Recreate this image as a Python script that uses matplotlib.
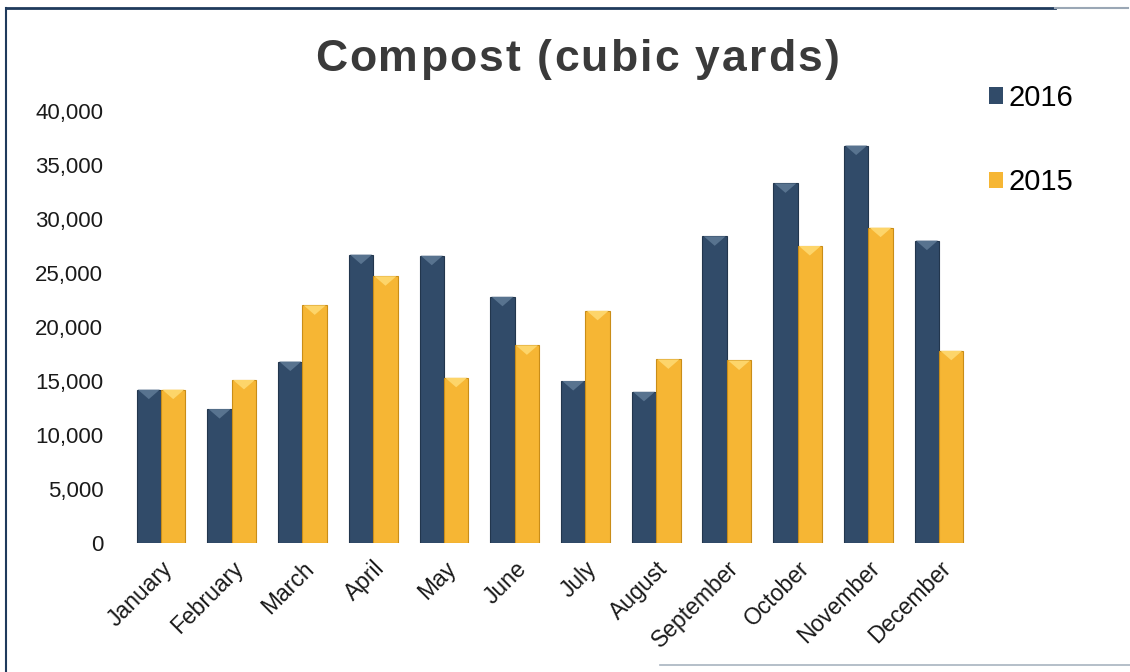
import numpy as np
import matplotlib
matplotlib.use("Agg")
import matplotlib.pyplot as plt
from matplotlib.patches import Polygon
from matplotlib.lines import Line2D

months = ['January', 'February', 'March', 'April', 'May', 'June',
          'July', 'August', 'September', 'October', 'November', 'December']
values_2016 = [14200, 12400, 16800, 26700, 26600, 22800,
               15000, 14000, 28400, 33300, 36800, 28000]
values_2015 = [14200, 15100, 22000, 24700, 15300, 18300,
               21500, 17000, 16900, 27500, 29200, 17800]

navy = '#314b69'
navy_light = '#58738f'
gold = '#f6b634'
gold_light = '#fdd56a'

plt.rcParams['font.family'] = ['Liberation Sans', 'DejaVu Sans']

fig = plt.figure(figsize=(11.3, 6.72), dpi=100)
ax = fig.add_axes([120 / 1130, 129 / 672, 858 / 1130, 432 / 672])

x = np.arange(len(months))
w = 0.345
b16 = ax.bar(x - w / 2, values_2016, width=w, color=navy, edgecolor='#22364d', linewidth=0.8, label='2016')
b15 = ax.bar(x + w / 2, values_2015, width=w, color=gold, edgecolor='#c98d18', linewidth=0.8, label='2015')

ax.set_xlim(-0.58, 11.55)
ax.set_ylim(0, 40000)

# top bevel on each bar
bevel = 0.022 * 40000
for bars, light in ((b16, navy_light), (b15, gold_light)):
    for p in bars:
        x0, h, bw = p.get_x(), p.get_height(), p.get_width()
        tri = Polygon([(x0 + bw * 0.05, h), (x0 + bw * 0.95, h), (x0 + bw / 2, h - bevel)],
                      closed=True, facecolor=light, edgecolor='none', zorder=3)
        ax.add_patch(tri)

ax.set_yticks(np.arange(0, 40001, 5000))
ax.set_yticklabels([f'{v:,}' for v in range(0, 40001, 5000)], fontsize=16, color='#1a1a1a')
ax.set_xticks(x)
ax.set_xticklabels(months, rotation=45, ha='right', rotation_mode='anchor',
                   fontsize=16.5, color='#1a1a1a')
ax.tick_params(axis='y', length=0, pad=12)
ax.tick_params(axis='x', length=0, pad=10)
for s in ax.spines.values():
    s.set_visible(False)

# title with wide letter spacing, placed char by char
title = 'Compost (cubic yards)'
tkw = dict(fontsize=32, fontweight='bold', color='#3a3a3a', va='baseline')
renderer = fig.canvas.get_renderer()


def text_w(s):
    t = fig.text(0, 0, s + 'x', **tkw)
    wd = t.get_window_extent(renderer).width
    t.remove()
    return wd


wx = text_w('')
track = 2.1
offsets = [text_w(title[:i]) - wx + i * track for i in range(len(title))]
total = text_w(title) - wx + (len(title) - 1) * track
start = 577 - total / 2
for ch, off in zip(title, offsets):
    if ch != ' ':
        fig.text((start + off) / 1130, 1 - 71 / 672, ch, ha='left', **tkw)

handles = [plt.Rectangle((0, 0), 1, 1, facecolor=navy, edgecolor='none'),
           plt.Rectangle((0, 0), 1, 1, facecolor=gold, edgecolor='none')]
fig.legend(handles, ['2016', '2015'], loc='upper left', bbox_to_anchor=(974 / 1130, 1 - 69 / 672),
           frameon=False, fontsize=21, handlelength=0.5, handleheight=0.5,
           handletextpad=0.2, labelspacing=1.95, borderpad=0)

# outer frame
fig.add_artist(Line2D([6 / 1130, 1055 / 1130], [1 - 8 / 672, 1 - 8 / 672], color='#1f3a5c', lw=2))
fig.add_artist(Line2D([1055 / 1130, 1128 / 1130], [1 - 8 / 672, 1 - 8 / 672], color='#9aa7b5', lw=1.5))
fig.add_artist(Line2D([6 / 1130, 6 / 1130], [1 - 8 / 672, 0], color='#1f3a5c', lw=1.5))
fig.add_artist(Line2D([660 / 1130, 1130 / 1130], [1 - 665 / 672, 1 - 665 / 672], color='#a8b4c0', lw=1.2))

fig.savefig('out.png', dpi=100)
